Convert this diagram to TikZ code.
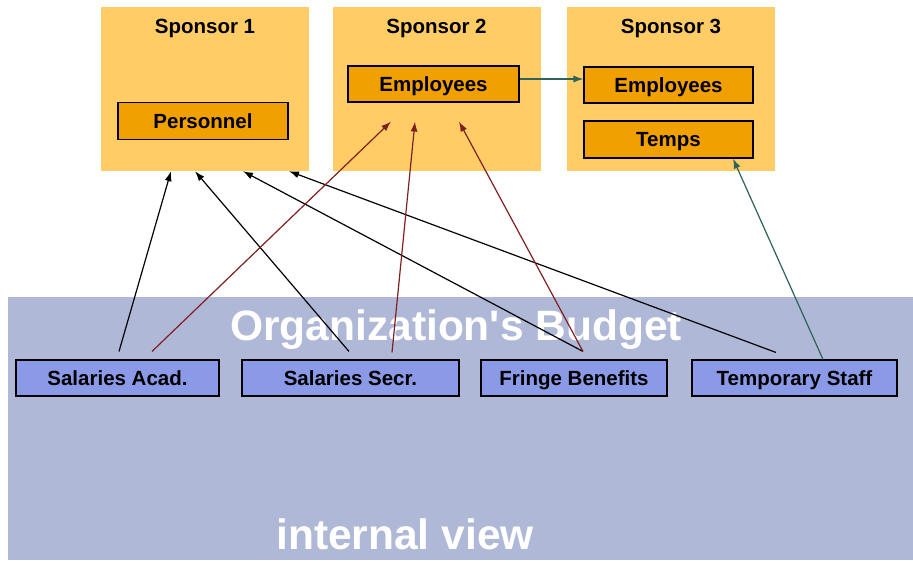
\documentclass[tikz,border=0pt]{standalone}
\usepackage{fontspec}
\setmainfont{Liberation Sans}
\usepackage{xcolor}
\usetikzlibrary{arrows.meta}

\definecolor{sponsorcol}{HTML}{FFCC66}
\definecolor{accountcol}{HTML}{F0A000}
\definecolor{budgetbg}{HTML}{B0B8D8}
\definecolor{itemcol}{HTML}{8A9AE6}
\definecolor{redlink}{HTML}{7F2020}
\definecolor{greenlink}{HTML}{2E6358}

\begin{document}
\begin{tikzpicture}[x=1pt, y=-1pt,
        lbl/.style={font=\bfseries\fontsize{20.5}{24}\selectfont},
        sponsor/.style={fill=sponsorcol, minimum width=208pt, minimum height=164pt, inner sep=0pt},
        account/.style={lbl, draw=black, line width=1.1pt, fill=accountcol, text height=14.7pt, text depth=0pt, minimum height=37pt, inner sep=0pt},
        budgetitem/.style={lbl, draw=black, line width=1.1pt, fill=itemcol, text height=14.7pt, text depth=0pt, minimum height=36pt, inner sep=0pt},
        bigtext/.style={font=\bfseries\fontsize{42.5}{50}\selectfont, text=white, anchor=base},
        link/.style={-{Latex[length=10pt,width=7pt]}, line width=1.2pt}
    ]
    \useasboundingbox[fill=white] (0,0) rectangle (913,560);

    % sponsors
    \foreach \x[count=\i] in {205, 436.5, 671} {
        \node[sponsor] (s\i) at (\x,89) {};
        \node[lbl, anchor=base] (s\i label) at (\x,33) {Sponsor \i};
    }
    \node[account, minimum width=170pt] (pers) at (203,121) {Personnel};
    \node[account, minimum width=171pt, minimum height=36pt] (emp2) at (433.5,84) {Employees};
    \node[account, minimum width=169pt, minimum height=36pt] (emp3) at (668.5,85) {Employees};
    \node[account, minimum width=169pt] (temps) at (668.5,139.5) {Temps};

    % organization's budget
    \fill[budgetbg] (8,297) rectangle (913,560);
    \node[bigtext] (budget) at (456,340) {Organization\textquotesingle s Budget};
    \node[bigtext] (view) at (405,549) {internal view};
    \foreach \name/\x/\w/\txt in {acad/117.5/203/Salaries Acad., secr/350.5/217/Salaries Secr., fringe/574/186/Fringe Benefits, temp/794.5/205/Temporary Staff} {
        \node[budgetitem, minimum width=\w pt] (\name) at (\x,378) {\txt};
    }

    % links
    \draw[link] ([xshift=1.5pt,yshift=8pt]acad.north) -- ([xshift=-34pt]s1.south);
    \draw[link] ([xshift=-1.5pt,yshift=8pt]secr.north) -- ([xshift=-10pt]s1.south);
    \draw[link] ([xshift=9pt,yshift=8pt]fringe.north) -- ([xshift=38pt]s1.south);
    \draw[link] ([xshift=-18.5pt,yshift=7pt]temp.north) -- ([xshift=84pt]s1.south);

    \draw[link, redlink] ([xshift=34.5pt,yshift=8pt]acad.north) -- ([xshift=-42.5pt,yshift=-19pt]emp2.south);
    \draw[link, redlink] ([xshift=41.5pt,yshift=7pt]secr.north) -- ([xshift=-18.5pt,yshift=-19pt]emp2.south);
    \draw[link, redlink] ([xshift=9pt,yshift=8pt]fringe.north) -- ([xshift=25.5pt,yshift=-19pt]emp2.south);

    \draw[link, greenlink] ([yshift=5pt]emp2.east) -- ([yshift=5pt]emp2.east -| emp3.west);
    \draw[link, greenlink] ([xshift=28.5pt]temp.north) -- ([xshift=64.5pt]temps.south);
\end{tikzpicture}
\end{document}
